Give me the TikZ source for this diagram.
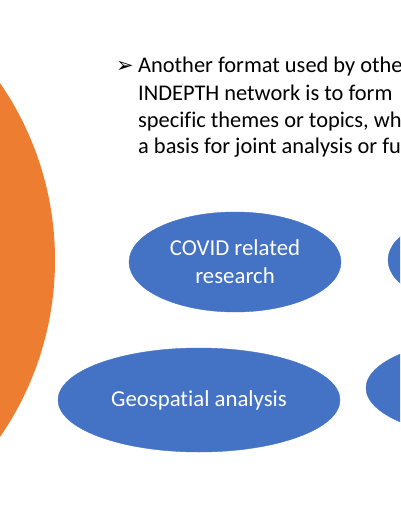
\documentclass[tikz,border=0pt]{standalone}
\usepackage{fontspec}
\setmainfont{Carlito}[Ligatures=NoCommon]
\newfontfamily\dingfont{DejaVu Sans}
\usetikzlibrary{shapes.geometric}
\definecolor{pptorange}{HTML}{ED7D31}
\definecolor{pptblue}{HTML}{4472C4}
\tikzset{
  topic/.style={ellipse, fill=pptblue, draw=pptblue, text=white, align=center,
    inner sep=0pt, font=\fontsize{22.8}{28}\selectfont},
  bullettext/.style={anchor=base west, inner sep=0pt, font=\fontsize{22.4}{26}\selectfont}
}
\begin{document}
\begin{tikzpicture}[x=1pt,y=-1pt]
  \useasboundingbox (0,0) rectangle (400,516);
  \clip (0,0) rectangle (400,516);
  \fill[pptorange] (-257,260) circle (312pt);
  \node[bullettext, font=\dingfont\fontsize{21}{21}\selectfont] (arrow) at (116,73) {➢};
  \foreach \y/\line [count=\i] in {73/Another format used by other, 100/INDEPTH network is to form,
    127/{specific themes or topics, which}, 153/a basis for joint analysis or further}
  {
    \node[bullettext] (line\i) at (138,\y) {\line};
  }
  \node[topic, minimum width=212pt, minimum height=100pt] (covid) at (235,262) {COVID related\\research};
  \node[topic, minimum width=212pt, minimum height=100pt] (topright) at (494,260) {};
  \node[topic, minimum width=282pt, minimum height=104pt] (geo) at (199,400) {Geospatial analysis};
  \node[topic, minimum width=282pt, minimum height=104pt] (bottomright) at (507,388) {};
\end{tikzpicture}
\end{document}
